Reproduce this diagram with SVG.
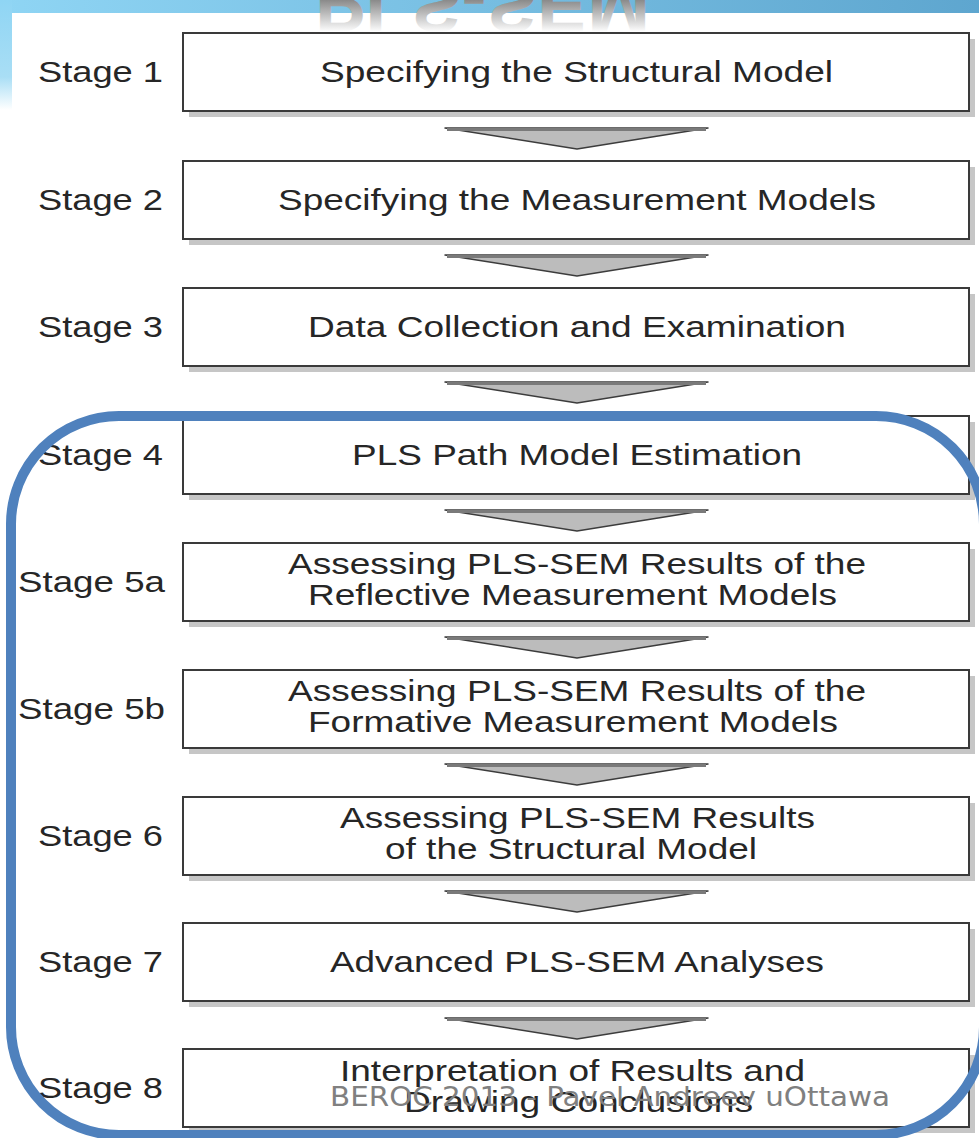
<svg xmlns="http://www.w3.org/2000/svg" width="979" height="1138" viewBox="0 0 979 1138">
<defs>
<style>
.lbl{font-family:"Liberation Sans",Arial,sans-serif;font-size:29px;fill:#262626}
.box{fill:#ffffff;stroke:#3a3a3a;stroke-width:2}
.shadow{fill:#c6c6c6}
.wm{font-family:"DejaVu Sans","Liberation Sans",sans-serif;font-size:26px;fill:#808080}
</style>
<linearGradient id="band" x1="0" y1="0" x2="1" y2="0">
<stop offset="0" stop-color="#8fd5f4"/>
<stop offset="1" stop-color="#5ea6cf"/>
</linearGradient>
<linearGradient id="strip" x1="0" y1="0" x2="0" y2="1">
<stop offset="0" stop-color="#8fd5f4"/>
<stop offset="0.7" stop-color="#a9def5"/>
<stop offset="1" stop-color="#ffffff"/>
</linearGradient>
<linearGradient id="refl" gradientUnits="userSpaceOnUse" x1="0" y1="-20" x2="0" y2="-52">
<stop offset="0" stop-color="#8a8a8a"/>
<stop offset="1" stop-color="#ffffff"/>
</linearGradient>
<g id="arrow">
<polygon points="445,0 708,0 577,21" fill="#bcbcbc" stroke="#3c3c3c" stroke-width="1.5" stroke-linejoin="round"/>
<line x1="447" y1="1.5" x2="706" y2="1.5" stroke="#7a7a7a" stroke-width="3"/>
</g>
</defs>
<rect x="0" y="0" width="979" height="1138" fill="#ffffff"/>
<rect x="0" y="0" width="979" height="13" fill="url(#band)"/>
<rect x="0" y="0" width="12" height="110" fill="url(#strip)"/>
<text x="315" y="0" textLength="335" lengthAdjust="spacingAndGlyphs" transform="translate(0,-20) scale(1,-1)" font-family="Liberation Sans,Arial,sans-serif" font-weight="bold" font-size="75" fill="url(#refl)">PLS-SEM</text>

<g id="connectors">
<use href="#arrow" y="128"/>
<use href="#arrow" y="255"/>
<use href="#arrow" y="382"/>
<use href="#arrow" y="510"/>
<use href="#arrow" y="637"/>
<use href="#arrow" y="764"/>
<use href="#arrow" y="891"/>
<use href="#arrow" y="1018"/>
</g>

<g id="stage1">
<rect class="shadow" x="189" y="39" width="786" height="78"/>
<rect class="box" x="183" y="33" width="786" height="78"/>
<text class="lbl" x="38" y="82" textLength="125" lengthAdjust="spacingAndGlyphs">Stage 1</text>
<text class="lbl" x="320" y="82" textLength="513" lengthAdjust="spacingAndGlyphs">Specifying the Structural Model</text>
</g>
<g id="stage2">
<rect class="shadow" x="189" y="167" width="786" height="78"/>
<rect class="box" x="183" y="161" width="786" height="78"/>
<text class="lbl" x="38" y="210" textLength="125" lengthAdjust="spacingAndGlyphs">Stage 2</text>
<text class="lbl" x="278" y="210" textLength="598" lengthAdjust="spacingAndGlyphs">Specifying the Measurement Models</text>
</g>
<g id="stage3">
<rect class="shadow" x="189" y="294" width="786" height="78"/>
<rect class="box" x="183" y="288" width="786" height="78"/>
<text class="lbl" x="38" y="337" textLength="125" lengthAdjust="spacingAndGlyphs">Stage 3</text>
<text class="lbl" x="308" y="337" textLength="538" lengthAdjust="spacingAndGlyphs">Data Collection and Examination</text>
</g>
<g id="stage4">
<rect class="shadow" x="189" y="422" width="786" height="78"/>
<rect class="box" x="183" y="416" width="786" height="78"/>
<text class="lbl" x="38" y="465" textLength="125" lengthAdjust="spacingAndGlyphs">Stage 4</text>
<text class="lbl" x="352" y="465" textLength="450" lengthAdjust="spacingAndGlyphs">PLS Path Model Estimation</text>
</g>
<g id="stage5a">
<rect class="shadow" x="189" y="549" width="786" height="78"/>
<rect class="box" x="183" y="543" width="786" height="78"/>
<text class="lbl" x="18" y="592" textLength="147" lengthAdjust="spacingAndGlyphs">Stage 5a</text>
<text class="lbl" x="288" y="574" textLength="578" lengthAdjust="spacingAndGlyphs">Assessing PLS-SEM Results of the</text>
<text class="lbl" x="308" y="605" textLength="529" lengthAdjust="spacingAndGlyphs">Reflective Measurement Models</text>
</g>
<g id="stage5b">
<rect class="shadow" x="189" y="676" width="786" height="78"/>
<rect class="box" x="183" y="670" width="786" height="78"/>
<text class="lbl" x="18" y="719" textLength="147" lengthAdjust="spacingAndGlyphs">Stage 5b</text>
<text class="lbl" x="288" y="701" textLength="578" lengthAdjust="spacingAndGlyphs">Assessing PLS-SEM Results of the</text>
<text class="lbl" x="308" y="732" textLength="530" lengthAdjust="spacingAndGlyphs">Formative Measurement Models</text>
</g>
<g id="stage6">
<rect class="shadow" x="189" y="803" width="786" height="78"/>
<rect class="box" x="183" y="797" width="786" height="78"/>
<text class="lbl" x="38" y="846" textLength="125" lengthAdjust="spacingAndGlyphs">Stage 6</text>
<text class="lbl" x="340" y="828" textLength="475" lengthAdjust="spacingAndGlyphs">Assessing PLS-SEM Results</text>
<text class="lbl" x="385" y="859" textLength="372" lengthAdjust="spacingAndGlyphs">of the Structural Model</text>
</g>
<g id="stage7">
<rect class="shadow" x="189" y="929" width="786" height="78"/>
<rect class="box" x="183" y="923" width="786" height="78"/>
<text class="lbl" x="38" y="972" textLength="125" lengthAdjust="spacingAndGlyphs">Stage 7</text>
<text class="lbl" x="330" y="972" textLength="494" lengthAdjust="spacingAndGlyphs">Advanced PLS-SEM Analyses</text>
</g>
<g id="stage8">
<rect class="shadow" x="189" y="1055" width="786" height="78"/>
<rect class="box" x="183" y="1049" width="786" height="78"/>
<text class="lbl" x="38" y="1098" textLength="125" lengthAdjust="spacingAndGlyphs">Stage 8</text>
<text class="lbl" x="340" y="1081" textLength="465" lengthAdjust="spacingAndGlyphs">Interpretation of Results and</text>
<text class="lbl" x="404" y="1112" textLength="349" lengthAdjust="spacingAndGlyphs">Drawing Conclusions</text>
</g>

<rect id="highlight" x="11" y="416" width="973" height="719" rx="108" ry="108" fill="none" stroke="#4f81bd" stroke-width="10"/>
<text class="wm" x="330" y="1106" textLength="560" lengthAdjust="spacingAndGlyphs">BEROC 2013 - Pavel Andreev uOttawa</text>
</svg>
